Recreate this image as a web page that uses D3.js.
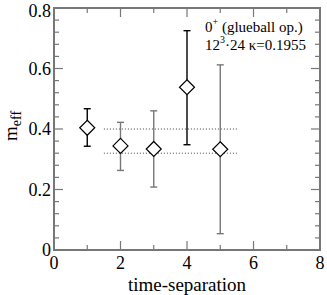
<!DOCTYPE html>
<html>
<head>
<meta charset="utf-8">
<script src="https://cdn.jsdelivr.net/npm/d3@7"></script>
<style>
  body { margin: 0; background: #fff; }
</style>
</head>
<body>
<script>
// data
const tsep = [1, 2, 3, 4, 5];
const meff = [0.404, 0.344, 0.334, 0.538, 0.333];
const errLo = [0.343, 0.263, 0.208, 0.348, 0.054];
const errHi = [0.467, 0.422, 0.460, 0.725, 0.612];
const barColors = ["#000", "#777", "#777", "#000", "#777"];
const fitLines = [
  { x0: 1.5, x1: 5.5, y: 0.4 },
  { x0: 1.5, x1: 5.5, y: 0.32 }
];
const xTicks = [0, 2, 4, 6, 8];
const yTicks = [0, 0.2, 0.4, 0.6, 0.8];

const width = 327, height = 295;
const marginLeft = 54, marginRight = 7, marginTop = 8, marginBottom = 45;
const serif = "'Liberation Serif', 'Times New Roman', Times, serif";

const svg = d3.select("body").append("svg")
  .attr("width", width)
  .attr("height", height)
  .attr("font-family", serif)
  .style("display", "block");

const x = d3.scaleLinear([0, 8], [marginLeft, width - marginRight]);
const y = d3.scaleLinear([0, 0.8], [height - marginBottom, marginTop]);

const axisColor = "#777";
const majorLen = 9, minorLen = 5;

// ticks (inward, mirrored on top and right)
const xMinor = d3.range(1, 8, 2);
const yMinor = d3.range(0, 0.8001, 0.04).filter(v => Math.abs(v / 0.2 - Math.round(v / 0.2)) > 1e-6);

const tg = svg.append("g").attr("stroke", axisColor).attr("stroke-width", 1.2);
xTicks.concat(xMinor).forEach(v => {
  const len = xTicks.includes(v) ? majorLen : minorLen;
  tg.append("line").attr("x1", x(v)).attr("x2", x(v)).attr("y1", y(0)).attr("y2", y(0) - len);
  tg.append("line").attr("x1", x(v)).attr("x2", x(v)).attr("y1", y(0.8)).attr("y2", y(0.8) + len);
});
yTicks.concat(yMinor).forEach(v => {
  const len = yTicks.includes(v) ? majorLen : minorLen;
  tg.append("line").attr("x1", x(0)).attr("x2", x(0) + len).attr("y1", y(v)).attr("y2", y(v));
  tg.append("line").attr("x1", x(8)).attr("x2", x(8) - len).attr("y1", y(v)).attr("y2", y(v));
});

// frame
svg.append("rect")
  .attr("x", x(0)).attr("y", y(0.8))
  .attr("width", x(8) - x(0)).attr("height", y(0) - y(0.8))
  .attr("fill", "none").attr("stroke", axisColor).attr("stroke-width", 2);

// tick labels
svg.append("g").selectAll("text")
  .data(xTicks)
  .join("text")
  .attr("font-family", serif)
  .attr("x", d => x(d))
  .attr("y", y(0) + 19)
  .attr("text-anchor", "middle")
  .attr("font-size", 18)
  .text(d => d);

svg.append("g").selectAll("text")
  .data(yTicks)
  .join("text")
  .attr("font-family", serif)
  .attr("x", x(0) - 3)
  .attr("y", d => Math.max(y(d) + 6, 17))
  .attr("text-anchor", "end")
  .attr("font-size", 18)
  .text(d => d === 0 ? "0" : d3.format(".1f")(d));

// axis titles
svg.append("text")
  .attr("font-family", serif)
  .attr("x", x(4))
  .attr("y", height - 4)
  .attr("text-anchor", "middle")
  .attr("font-size", 19)
  .text("time-separation");

const yl = svg.append("text")
  .attr("font-family", serif)
  .attr("transform", `translate(17,${y(0.41)}) rotate(-90)`)
  .attr("text-anchor", "middle")
  .attr("font-size", 19);
yl.append("tspan").text("m");
yl.append("tspan").attr("font-size", 14).attr("dy", 4).text("eff");

// fit lines
svg.append("g").selectAll("line")
  .data(fitLines)
  .join("line")
  .attr("x1", d => x(d.x0)).attr("x2", d => x(d.x1))
  .attr("y1", d => y(d.y)).attr("y2", d => y(d.y))
  .attr("stroke", "#444")
  .attr("stroke-width", 1)
  .attr("stroke-dasharray", "1,2");

// error bars
const capW = 3.5;
const eb = svg.append("g").attr("stroke-width", 1.4);
tsep.forEach((t, i) => {
  const g = eb.append("g").attr("stroke", barColors[i]);
  g.append("line").attr("x1", x(t)).attr("x2", x(t)).attr("y1", y(errLo[i])).attr("y2", y(errHi[i]));
  g.append("line").attr("x1", x(t) - capW).attr("x2", x(t) + capW).attr("y1", y(errLo[i])).attr("y2", y(errLo[i]));
  g.append("line").attr("x1", x(t) - capW).attr("x2", x(t) + capW).attr("y1", y(errHi[i])).attr("y2", y(errHi[i]));
});

// diamonds
const dr = 7.5;
svg.append("g").selectAll("path")
  .data(tsep)
  .join("path")
  .attr("d", (t, i) => {
    const cx = x(t), cy = y(meff[i]);
    return `M${cx},${cy - dr}L${cx + dr},${cy}L${cx},${cy + dr}L${cx - dr},${cy}Z`;
  })
  .attr("fill", "#fff")
  .attr("stroke", "#000")
  .attr("stroke-width", 1.2);

// legend text
const leg = svg.append("g").attr("font-size", 15).attr("font-family", serif);
const l1 = leg.append("text").attr("x", 205).attr("y", 32);
l1.append("tspan").text("0");
l1.append("tspan").attr("font-size", 10).attr("dy", -7).text("+");
l1.append("tspan").attr("dy", 7).text(" (glueball op.)");
const l2 = leg.append("text").attr("x", 205).attr("y", 50);
l2.append("tspan").text("12");
l2.append("tspan").attr("font-size", 10).attr("dy", -7).text("3");
l2.append("tspan").attr("dy", 7).text("·24 κ=0.1955");
</script>
</body>
</html>
